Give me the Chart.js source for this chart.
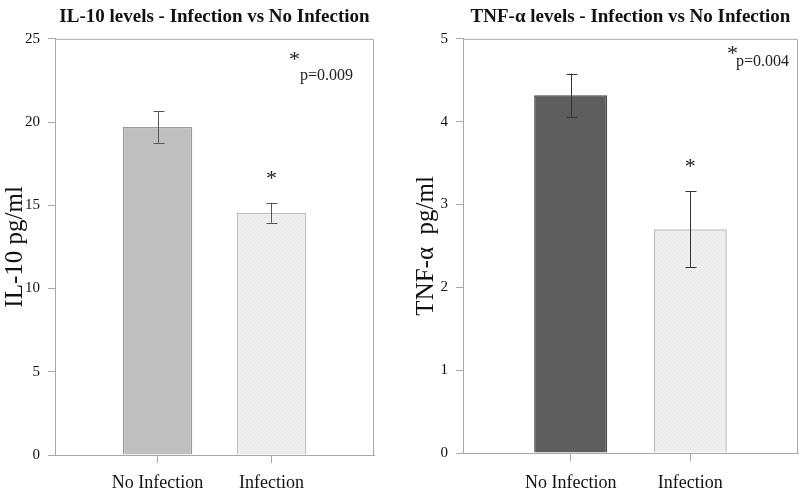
<!DOCTYPE html>
<html>
<head>
<meta charset="utf-8">
<script src="https://cdn.jsdelivr.net/npm/chart.js@4/dist/chart.umd.min.js"></script>
<style>
  body { margin: 0; background: #fff; }
  .wrap { width: 800px; height: 495px; display: flex; }
  .box { width: 400px; height: 495px; position: relative; }
</style>
</head>
<body>
<div class="wrap">
  <div class="box"><canvas id="chartIL10" width="400" height="495"></canvas></div>
  <div class="box"><canvas id="chartTNF" width="400" height="495"></canvas></div>
</div>
<script>
// categories
var grupos = ['No Infection', 'Infection'];

// IL-10 (pg/ml)
var il10Medias = [19.7, 14.55];
var il10Errores = [0.95, 0.6];
var il10Ticks = [0, 5, 10, 15, 20, 25];

// TNF-alpha (pg/ml)
var tnfMedias = [4.32, 2.7];
var tnfErrores = [0.26, 0.46];
var tnfTicks = [0, 1, 2, 3, 4, 5];

var fuente = "'Liberation Serif', 'DejaVu Serif', serif";

// light dotted fill used for the Infection bars
function patronClaro() {
    var c = document.createElement('canvas');
    c.width = 4; c.height = 4;
    var g = c.getContext('2d');
    g.fillStyle = '#efefef';
    g.fillRect(0, 0, 4, 4);
    g.fillStyle = '#e2e2e2';
    g.fillRect(1, 1, 1, 1);
    g.fillRect(3, 3, 1, 1);
    return g.createPattern(c, 'repeat');
}

// frame + error bars + asterisk + p value
var extras = {
    id: 'extras',
    afterDatasetsDraw: function(chart) {
        var ctx = chart.ctx;
        var a = chart.chartArea;
        var op = chart.options.plugins.extras;
        var xs = chart.scales.x, ys = chart.scales.y;
        ctx.save();
        // top and right borders
        ctx.strokeStyle = '#a8a8a8';
        ctx.lineWidth = 1;
        ctx.beginPath();
        ctx.moveTo(a.left, a.top + 0.5);
        ctx.lineTo(a.right - 0.5, a.top + 0.5);
        ctx.lineTo(a.right - 0.5, a.bottom);
        ctx.stroke();

        // error bars
        ctx.strokeStyle = op.colorError;
        for (var i = 0; i < op.medias.length; i++) {
            var x = Math.round(xs.getPixelForValue(i + 1)) + 0.5;
            var yA = ys.getPixelForValue(op.medias[i] + op.errores[i]);
            var yB = ys.getPixelForValue(op.medias[i] - op.errores[i]);
            ctx.beginPath();
            ctx.moveTo(x, yA); ctx.lineTo(x, yB);
            ctx.moveTo(x - 5, Math.round(yA) + 0.5); ctx.lineTo(x + 6, Math.round(yA) + 0.5);
            ctx.moveTo(x - 5, Math.round(yB) + 0.5); ctx.lineTo(x + 6, Math.round(yB) + 0.5);
            ctx.stroke();
        }

        // asterisk over Infection
        var xi = xs.getPixelForValue(2);
        var yi = ys.getPixelForValue(op.medias[1] + op.errores[1]);
        ctx.fillStyle = '#222';
        ctx.font = '22px ' + fuente;
        ctx.textAlign = 'center';
        ctx.textBaseline = 'middle';
        ctx.fillText('*', xi, yi - 24);

        // p value
        ctx.textAlign = 'left';
        ctx.textBaseline = 'alphabetic';
        ctx.font = '22px ' + fuente;
        ctx.fillText('*', a.right - op.pDerecha, a.top + op.pArriba);
        ctx.font = '16px ' + fuente;
        ctx.fillText(op.pTexto, a.right - op.pDerecha + op.pDx, a.top + op.pArriba + op.pDy);
        ctx.restore();
    }
};

function crearGrafica(id, titulo, ejeY, medias, errores, ticksY, colores, bordes, colorError, pTexto, pos) {
    var ctx = document.getElementById(id).getContext('2d');
    return new Chart(ctx, {
        type: 'bar',
        data: {
            datasets: [{
                data: medias.map(function(v, i) { return { x: i + 1, y: v }; }),
                backgroundColor: colores,
                borderColor: bordes,
                borderWidth: 1.5,
                borderSkipped: 'bottom',
                categoryPercentage: 1,
                barPercentage: 0.61
            }]
        },
        options: {
            responsive: false,
            animation: false,
            layout: { padding: { left: pos.izquierda, right: pos.derecha, top: 0, bottom: 0 } },
            plugins: {
                legend: { display: false },
                tooltip: { enabled: false },
                title: {
                    display: true,
                    fullSize: false,
                    text: titulo,
                    color: '#111',
                    font: { family: fuente, size: 19, weight: 'bold' },
                    padding: { top: 6, bottom: 10 }
                },
                extras: {
                    medias: medias, errores: errores, colorError: colorError,
                    pTexto: pTexto, pDerecha: pos.pDerecha, pArriba: pos.pArriba,
                    pDx: pos.pDx, pDy: pos.pDy
                }
            },
            scales: {
                x: {
                    type: 'linear',
                    offset: false,
                    min: 0.1,
                    max: 2.9,
                    afterBuildTicks: function(scale) {
                        scale.ticks = grupos.map(function(g, i) { return { value: i + 1 }; });
                    },
                    afterFit: function(scale) { scale.height = pos.altoX; },
                    ticks: {
                        callback: function(v) { return grupos[v - 1]; },
                        color: '#111',
                        font: { family: fuente, size: 18 },
                        padding: pos.padX,
                        maxRotation: 0,
                        autoSkip: false
                    },
                    grid: { offset: false, drawOnChartArea: false, drawTicks: true, tickLength: 8, color: '#a8a8a8' },
                    border: { display: true, color: '#a8a8a8' }
                },
                y: {
                    min: 0,
                    max: ticksY[ticksY.length - 1],
                    afterBuildTicks: function(scale) {
                        scale.ticks = ticksY.map(function(v) { return { value: v }; });
                    },
                    afterFit: function(scale) { scale.width = pos.anchoY; },
                    title: {
                        display: true,
                        text: ejeY,
                        color: '#111',
                        font: { family: fuente, size: 25 },
                        padding: { top: 0, bottom: 2 }
                    },
                    ticks: {
                        color: '#111',
                        font: { family: fuente, size: 15 },
                        padding: 8
                    },
                    grid: { drawOnChartArea: false, drawTicks: true, tickLength: 7, color: '#a8a8a8' },
                    border: { display: true, color: '#a8a8a8' }
                }
            }
        },
        plugins: [extras]
    });
}

var claro = patronClaro();

crearGrafica('chartIL10', 'IL-10 levels - Infection vs No Infection', 'IL-10 pg/ml',
    il10Medias, il10Errores, il10Ticks,
    ['#bfbfbf', claro], ['#9a9a9a', '#bdbdbd'], '#555', 'p=0.009',
    { izquierda: 0, derecha: 26, anchoY: 55, altoX: 40, padX: 9,
      pDerecha: 85, pArriba: 27, pDx: 11, pDy: 14 });

crearGrafica('chartTNF', 'TNF-\u03b1 levels - Infection vs No Infection', 'TNF-\u03b1  pg/ml',
    tnfMedias, tnfErrores, tnfTicks,
    ['#5e5e5e', claro], ['#444444', '#bdbdbd'], '#333', 'p=0.004',
    { izquierda: 11, derecha: 2, anchoY: 52, altoX: 42, padX: 11,
      pDerecha: 71, pArriba: 21, pDx: 9, pDy: 6 });
</script>
</body>
</html>
